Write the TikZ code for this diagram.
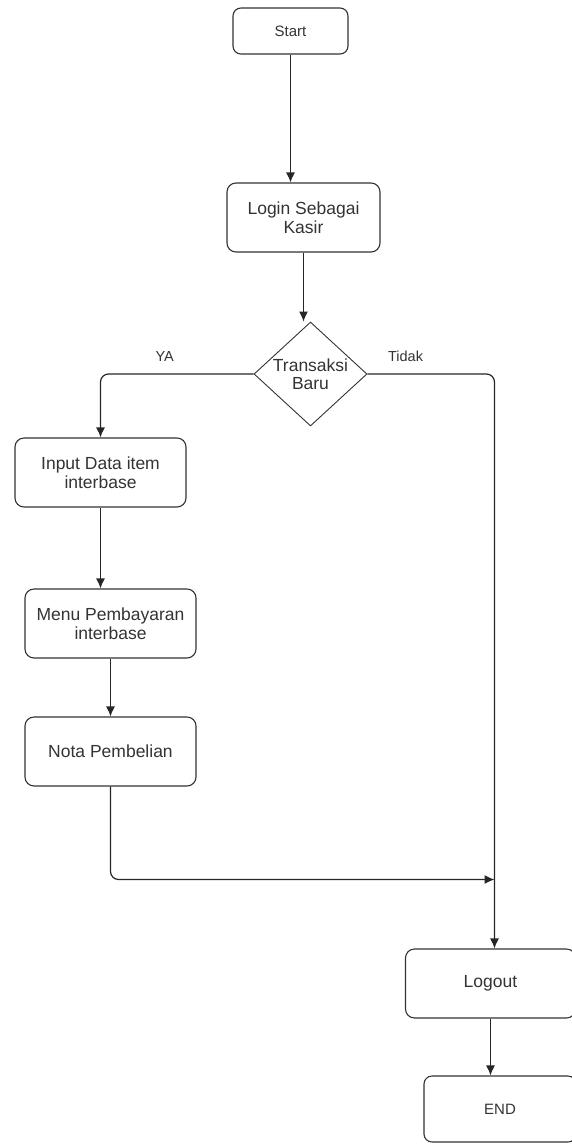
\documentclass[tikz,border=0pt]{standalone}
\usepackage{fontspec}
\setmainfont{Liberation Sans}
\usepackage{tikz}
\usetikzlibrary{arrows,arrows.meta,positioning,shapes}
\definecolor{inkgray}{HTML}{333333}
\tikzstyle{block}=[draw=inkgray, rectangle, rounded corners=9pt, line width=1.1pt, text=inkgray, align=center, minimum width=171pt, minimum height=69pt, font=\fontsize{17.5}{18.5}\selectfont]
\tikzstyle{terminal}=[block, minimum width=115pt, minimum height=46pt, rounded corners=8pt, font=\fontsize{15}{18}\selectfont]
\tikzstyle{decision}=[draw=inkgray, diamond, aspect=1.09, inner sep=0pt, minimum width=113pt, minimum height=104pt, line width=0.9pt, text=inkgray, align=center, font=\fontsize{17.5}{18.5}\selectfont]
\tikzstyle{lbl}=[text=inkgray, inner sep=0pt, font=\fontsize{14.5}{16}\selectfont]
\tikzstyle{flow}=[draw=black!85, line width=1.2pt, -{Latex[length=10pt,width=9pt]}, rounded corners=8pt]

\begin{document}
\begin{tikzpicture}[x=1pt, y=-1pt]
    \useasboundingbox (0,0) rectangle (572,1144);
    \node [terminal] (start) at (290.5,31) {Start};
    \node [block, minimum width=153pt] (login) at (303.5,217.5) {Login Sebagai\\Kasir};
    \node [decision] (baru) at (310.5,374) {Transaksi\\Baru};
    \node [block] (input) at (100.5,472.5) {Input Data item\\interbase};
    \node [block] (bayar) at (110.5,623.5) {Menu Pembayaran\\interbase};
    \node [block] (nota) at (110.5,751.5) {Nota Pembelian};
    \node [block, minimum width=170pt] (logout) at (490.5,983.5) {Logout};
    \node [terminal, minimum width=152pt, minimum height=66pt] (end) at (500,1109) {END};
    \coordinate (gabung) at (494.5,879.5);
    \coordinate (masuk) at ([xshift=4pt]logout.north);
    \draw[flow] (start) -- (start.south |- login.north);
    \draw[flow] (login) -- (login.south |- baru.north);
    \draw[flow] (baru.west) -| node [lbl, pos=.29, above=12pt] (ya) {YA} (input.north);
    \draw[flow] (baru.east) -| node [lbl, pos=.15, above=12pt] (tidak) {Tidak} (masuk);
    \draw[flow] (input) -- (input.south |- bayar.north);
    \draw[flow] (bayar) -- (nota);
    \draw[flow] (nota.south) |- (gabung);
    \draw[flow] (logout) -- (logout.south |- end.north);
\end{tikzpicture}
\end{document}
